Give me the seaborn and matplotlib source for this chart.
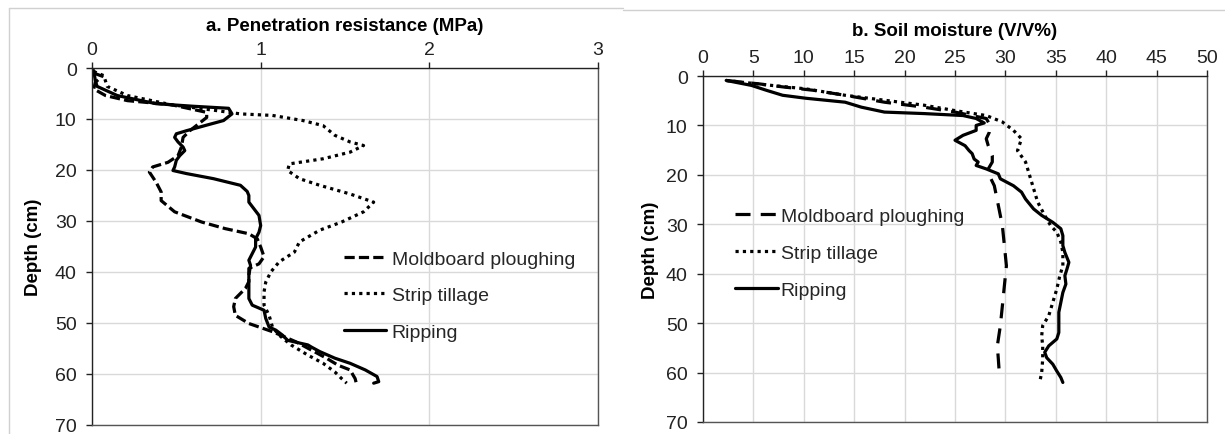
import numpy as np
import pandas as pd
import matplotlib
matplotlib.use("Agg")
import matplotlib.pyplot as plt
from matplotlib.lines import Line2D
import seaborn as sns

# a. penetration resistance (MPa) vs depth (cm)
pr_mold_depth = [1.0, 1.6, 2.8, 4.1, 5.4, 6.4, 7.2, 8.7, 9.7, 11.0, 12.3, 13.6, 15.5, 17.2, 18.5, 19.4,
                 20.4, 22.4, 24.3, 26.0, 28.2, 30.2, 31.5, 32.5, 33.5, 35.1, 37.0, 38.4, 39.3, 40.6,
                 41.9, 43.2, 45.2, 46.8, 48.5, 50.1, 51.7, 53.7, 55.3, 56.9, 58.3, 59.2, 60.9, 62.2]
pr_mold = [0.01, 0.06, 0.02, 0.01, 0.08, 0.21, 0.47, 0.68, 0.68, 0.63, 0.58, 0.54, 0.53, 0.51, 0.45, 0.36,
           0.34, 0.38, 0.41, 0.41, 0.49, 0.65, 0.79, 0.93, 0.98, 1.00, 1.02, 0.99, 0.93, 0.93,
           0.93, 0.91, 0.85, 0.84, 0.85, 0.93, 1.07, 1.21, 1.30, 1.39, 1.46, 1.53, 1.56, 1.57]

pr_strip_depth = [0.7, 1.5, 3.6, 5.4, 7.2, 8.4, 9.0, 9.3, 10.3, 11.3, 13.2, 14.5, 15.2, 16.5, 17.8, 18.8,
                  20.1, 21.7, 23.0, 24.7, 26.3, 28.2, 30.2, 31.8, 34.1, 36.1, 38.0, 40.0, 42.0, 43.9,
                  46.5, 48.5, 50.8, 52.4, 54.3, 56.3, 57.9, 59.6, 60.9, 61.8]
pr_strip = [0.01, 0.07, 0.09, 0.21, 0.47, 0.75, 0.88, 1.07, 1.25, 1.37, 1.44, 1.53, 1.61, 1.53, 1.37, 1.17,
            1.16, 1.23, 1.35, 1.53, 1.67, 1.61, 1.48, 1.35, 1.23, 1.20, 1.11, 1.06, 1.03, 1.02,
            1.02, 1.05, 1.07, 1.11, 1.18, 1.28, 1.37, 1.44, 1.48, 1.51]

pr_rip_depth = [0.5, 2.5, 3.6, 5.4, 7.0, 7.5, 7.9, 9.0, 10.3, 11.2, 12.3, 12.9, 13.6, 14.5, 15.5, 16.2,
                17.2, 18.1, 19.4, 20.1, 20.7, 21.7, 23.0, 24.2, 25.0, 26.3, 27.6, 28.9, 30.9, 32.2,
                33.5, 35.1, 36.4, 37.7, 38.7, 40.6, 42.6, 45.2, 46.5, 47.5, 49.1, 50.8, 51.4, 52.4,
                53.4, 54.3, 54.7, 55.6, 56.9, 57.9, 59.2, 60.5, 61.5, 61.8]
pr_rip = [0.01, 0.02, 0.03, 0.15, 0.38, 0.60, 0.81, 0.83, 0.78, 0.68, 0.56, 0.50, 0.49, 0.51, 0.54, 0.55,
          0.52, 0.50, 0.49, 0.48, 0.56, 0.72, 0.88, 0.92, 0.93, 0.93, 0.96, 0.99, 1.00, 0.99,
          0.97, 0.97, 0.95, 0.93, 0.94, 0.93, 0.93, 0.93, 0.95, 1.02, 1.03, 1.05, 1.09, 1.13,
          1.16, 1.28, 1.30, 1.35, 1.44, 1.53, 1.62, 1.69, 1.70, 1.67]

# b. soil moisture (V/V%) vs depth (cm)
sm_mold_depth = [0.9, 1.6, 2.2, 2.9, 3.9, 5.3, 6.3, 7.3, 8.6, 10.0, 11.4, 12.7, 14.1, 16.1, 17.4, 18.8,
                 20.1, 22.2, 26.2, 30.3, 34.3, 38.4, 42.4, 46.5, 50.5, 54.6, 57.3, 60.3]
sm_mold = [2.3, 5.6, 7.9, 11.0, 14.1, 18.0, 21.9, 25.0, 28.1, 28.5, 28.4, 28.1, 28.3, 28.7, 28.7, 28.3,
           28.4, 28.9, 29.3, 29.7, 29.9, 30.1, 29.9, 29.7, 29.5, 29.2, 29.3, 29.4]

sm_strip_depth = [0.9, 1.8, 2.6, 3.9, 4.9, 5.9, 7.0, 8.0, 9.3, 11.0, 12.7, 15.1, 17.4, 20.1, 22.8, 25.5,
                  28.2, 30.3, 31.6, 33.6, 35.7, 38.4, 40.4, 43.1, 45.8, 48.5, 50.5, 52.6, 54.6, 57.3,
                  60.0, 62.0]
sm_strip = [2.3, 6.3, 10.2, 14.1, 18.0, 21.9, 25.0, 28.1, 29.7, 30.8, 31.6, 31.2, 32.0, 32.4, 32.8, 33.2,
            33.9, 34.5, 35.1, 35.5, 35.7, 35.7, 35.4, 35.1, 34.7, 34.3, 33.7, 33.6, 33.7, 33.7,
            33.6, 33.4]

sm_rip_depth = [0.9, 1.9, 2.9, 3.9, 4.5, 5.3, 6.3, 7.3, 7.6, 8.0, 8.6, 9.5, 10.0, 11.0, 12.0, 13.0,
                14.1, 15.1, 15.7, 16.8, 17.4, 18.1, 18.8, 19.8, 20.8, 22.2, 23.5, 24.9, 26.9, 28.2,
                29.6, 30.9, 32.3, 34.3, 35.7, 37.7, 39.1, 40.4, 42.1, 43.8, 45.8, 47.8, 51.9, 53.2,
                54.6, 55.9, 57.0, 58.3, 59.7, 61.0, 62.0]
sm_rip = [2.3, 4.8, 6.3, 7.9, 10.2, 14.1, 15.7, 18.0, 21.9, 25.8, 27.1, 27.9, 27.1, 27.1, 25.8, 25.0,
          26.0, 26.4, 26.7, 26.9, 27.3, 27.1, 28.1, 29.3, 29.5, 30.8, 31.6, 32.0, 32.8, 33.6,
          34.7, 35.5, 35.7, 35.7, 35.9, 36.3, 36.1, 35.9, 36.0, 35.7, 35.5, 35.3, 35.3, 35.1,
          34.3, 33.9, 34.1, 34.7, 35.1, 35.5, 35.7]

labels = ["Moldboard ploughing", "Strip tillage", "Ripping"]

sns.set_theme(style="white")
plt.rcParams["font.family"] = ["Liberation Sans", "DejaVu Sans"]

LW = 2.3
GRID = "#d9d9d9"
TICK_FS = 14
LABEL_FS = 13.5


def draw_panel(ax, series, styles, xlim, xticks, title, legend_anchor, spacing, textpad):
    for (xv, dv), lab, ls in zip(series, labels, styles):
        df = pd.DataFrame({"x": xv, "depth": dv})
        sns.lineplot(data=df, x="x", y="depth", sort=False, estimator=None,
                     color="black", linewidth=LW, linestyle=ls, label=lab, ax=ax)
    ax.set_xlim(*xlim)
    ax.set_ylim(70, 0)
    ax.set_xticks(xticks)
    ax.set_yticks(np.arange(0, 71, 10))
    ax.xaxis.tick_top()
    ax.xaxis.set_label_position("top")
    ax.set_xlabel(title, fontsize=LABEL_FS, fontweight="bold", color="black")
    ax.set_ylabel("Depth (cm)", fontsize=LABEL_FS, fontweight="bold", color="black")
    ax.grid(True, color=GRID, linewidth=1)
    ax.set_axisbelow(True)
    for side in ["left", "top"]:
        ax.spines[side].set_color("#222222")
        ax.spines[side].set_linewidth(1)
    for side in ["right", "bottom"]:
        ax.spines[side].set_color("#555555")
        ax.spines[side].set_linewidth(1)
    ax.tick_params(axis="x", which="both", top=True, bottom=False, length=4,
                   width=1, pad=3, labelsize=TICK_FS, colors="#222222")
    ax.tick_params(axis="y", which="both", left=True, length=4,
                   width=1, pad=7, labelsize=TICK_FS, colors="#222222")
    handles = [Line2D([], [], color="black", linewidth=LW, linestyle=ls) for ls in styles]
    ax.legend(handles, labels, loc="upper left", bbox_to_anchor=legend_anchor,
              frameon=False, fontsize=TICK_FS, handlelength=2.2, handletextpad=textpad,
              labelspacing=spacing, borderaxespad=0)


fig = plt.figure(figsize=(12.25, 4.35), dpi=100)

ax_a = fig.add_axes([92 / 1225, 1 - 426 / 435, 506 / 1225, 357 / 435])
draw_panel(ax_a,
           [(pr_mold, pr_mold_depth), (pr_strip, pr_strip_depth), (pr_rip, pr_rip_depth)],
           [(0, (3.2, 1.3)), (0, (1, 1.3)), "-"],
           (0, 3), [0, 1, 2, 3], "a. Penetration resistance (MPa)",
           (0.482, 0.512), 0.97, 0.26)
ax_a.xaxis.labelpad = 8
ax_a.yaxis.labelpad = 9

ax_b = fig.add_axes([703 / 1225, 1 - 423 / 435, 504 / 1225, 346 / 435])
draw_panel(ax_b,
           [(sm_mold, sm_mold_depth), (sm_strip, sm_strip_depth), (sm_rip, sm_rip_depth)],
           [(0, (4.7, 3.2)), (0, (1, 1.3)), "-"],
           (0, 50), np.arange(0, 51, 5), "b. Soil moisture (V/V%)",
           (0.048, 0.642), 0.98, 0.15)
ax_b.xaxis.labelpad = 10.5
ax_b.yaxis.labelpad = 5

# light frame lines around the two panels
fig.add_artist(Line2D([9 / 1225, 9 / 1225], [0, 1 - 9 / 435], transform=fig.transFigure,
                      color="#d0d0d0", linewidth=1))
fig.add_artist(Line2D([9 / 1225, 623 / 1225], [1 - 9 / 435, 1 - 9 / 435], transform=fig.transFigure,
                      color="#d0d0d0", linewidth=1))
fig.add_artist(Line2D([623 / 1225, 1], [1 - 11 / 435, 1 - 11 / 435], transform=fig.transFigure,
                      color="#d0d0d0", linewidth=1))

fig.savefig("out.png", dpi=100)
